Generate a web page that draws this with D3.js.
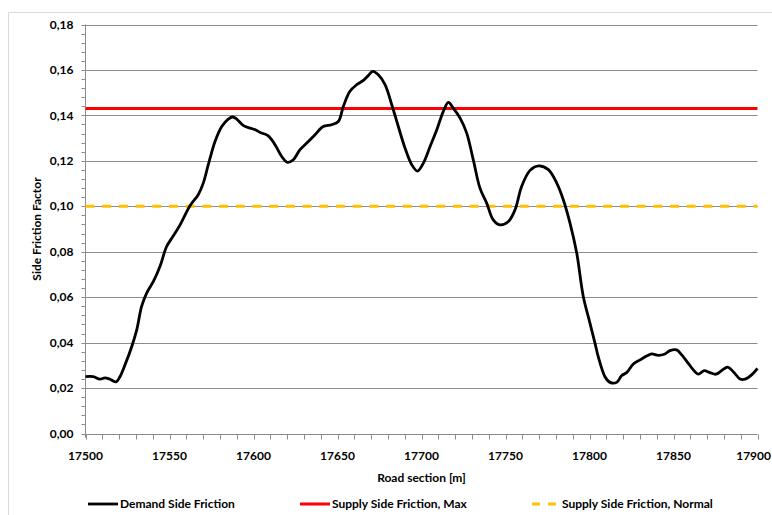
<!DOCTYPE html>
<html>
<head>
<meta charset="utf-8">
<script src="https://cdn.jsdelivr.net/npm/d3@7"></script>
<style>
  body { margin: 0; background: #fff; }
  text { font-family: Lato, "Open Sans", sans-serif; font-weight: bold; fill: #000; }
</style>
</head>
<body>
<svg id="chart"></svg>
<script>
// station along road [m]
const station = [17500, 17504.6, 17508.6, 17511.6, 17514.6, 17518.2, 17520.5, 17523.5, 17527.5, 17530.5,
  17533.4, 17536.4, 17540.4, 17544.3, 17548.3, 17552.3, 17556.3, 17562.2, 17567.1, 17570.1,
  17573.1, 17577.1, 17581.1, 17585, 17587.6, 17590, 17594, 17598, 17601, 17604, 17608.8,
  17612.8, 17616.8, 17620.3, 17623.7, 17627.7, 17631.7, 17636.6, 17641.5, 17646.5, 17650.5,
  17653.5, 17657.4, 17661.4, 17665.4, 17668.3, 17671, 17674.3, 17678.3, 17682.3, 17686.2,
  17690.2, 17694.2, 17697.6, 17701.1, 17705.1, 17709.1, 17713, 17716, 17718.9, 17722.9,
  17726.9, 17730.8, 17734.8, 17738.8, 17742.7, 17746.7, 17751.7, 17755.7, 17759.6, 17764.6,
  17769.9, 17775.5, 17780.5, 17784.4, 17788.4, 17792.4, 17796.3, 17800.3, 17803.3, 17805.2,
  17809.2, 17812.2, 17816.2, 17819.2, 17822.1, 17826.1, 17830.1, 17834, 17837, 17841,
  17844.9, 17847.9, 17851.9, 17854.9, 17858.8, 17861.8, 17864.8, 17868.2, 17871.7, 17875.3,
  17878.7, 17882.3, 17885.6, 17889.6, 17892.6, 17896.5, 17900];

const demandFriction = [0.0250, 0.0250, 0.0239, 0.0245, 0.0239, 0.0227, 0.0250, 0.0302, 0.0382, 0.0456,
  0.0559, 0.0618, 0.0669, 0.0735, 0.0823, 0.0870, 0.0918, 0.1002, 0.1051, 0.1102,
  0.1183, 0.1285, 0.1351, 0.1384, 0.1393, 0.1384, 0.1355, 0.1344, 0.1337, 0.1325, 0.1310,
  0.1271, 0.1219, 0.1193, 0.1205, 0.1249, 0.1278, 0.1315, 0.1351, 0.1359, 0.1373,
  0.1440, 0.1506, 0.1535, 0.1554, 0.1575, 0.1594, 0.1579, 0.1535, 0.1447, 0.1351,
  0.1256, 0.1183, 0.1155, 0.1190, 0.1263, 0.1337, 0.1418, 0.1457, 0.1432, 0.1389,
  0.1322, 0.1205, 0.1080, 0.1014, 0.0940, 0.0918, 0.0933, 0.0985, 0.1087, 0.1158,
  0.1178, 0.1161, 0.1102, 0.1029, 0.0926, 0.0794, 0.0603, 0.0485, 0.0397, 0.0338,
  0.0250, 0.0225, 0.0225, 0.0255, 0.0268, 0.0306, 0.0324, 0.0341, 0.0350, 0.0344,
  0.0350, 0.0365, 0.0368, 0.0346, 0.0309, 0.0280, 0.0261, 0.0277, 0.0268, 0.0261,
  0.0277, 0.0292, 0.0272, 0.0240, 0.0239, 0.0258, 0.0287];

const supplyMax = 0.143;
const supplyNormal = 0.10;

const xTicks = [17500, 17550, 17600, 17650, 17700, 17750, 17800, 17850, 17900];
const yTicks = [0, 0.02, 0.04, 0.06, 0.08, 0.10, 0.12, 0.14, 0.16, 0.18];

const legendItems = [
  { name: "Demand Side Friction", color: "#000", dash: null, width: 2.8 },
  { name: "Supply Side Friction, Max", color: "#ff0000", dash: null, width: 3 },
  { name: "Supply Side Friction, Normal", color: "#ffc000", dash: "8,8", width: 3 }
];

function createChart() {
  const width = 772;
  const height = 515;
  const margin = { left: 85.5, right: 14.5, top: 24.5, bottom: 81.5 };

  const svg = d3.select("#chart")
    .attr("width", width)
    .attr("height", height);

  // outer chart border (only top/left visible in the crop)
  svg.append("path")
    .attr("d", `M8.5,${height + 5} V12.5 H${width + 5}`)
    .attr("fill", "none")
    .attr("stroke", "#d9d9d9")
    .attr("stroke-width", 1);

  const x = d3.scaleLinear()
    .domain([17500, 17900])
    .range([margin.left, width - margin.right]);

  const y = d3.scaleLinear()
    .domain([0, 0.18])
    .range([height - margin.bottom, margin.top]);

  const fmt = d => d3.format(".2f")(d).replace(".", ",");

  // gridlines
  svg.append("g")
    .selectAll("line")
    .data(yTicks.filter(d => d > 0))
    .join("line")
    .attr("x1", x.range()[0])
    .attr("x2", x.range()[1])
    .attr("y1", d => Math.round(y(d)) + 0.5)
    .attr("y2", d => Math.round(y(d)) + 0.5)
    .attr("stroke", "#8c8c8c")
    .attr("stroke-width", 1);

  // y axis with minor ticks
  const yMinor = d3.range(0, 0.1801, 0.004);
  const yAxisG = svg.append("g").attr("transform", `translate(${margin.left},0)`);
  yAxisG.selectAll("line.minor")
    .data(yMinor)
    .join("line")
    .attr("class", "minor")
    .attr("x1", -4).attr("x2", 0)
    .attr("y1", d => Math.round(y(d)) + 0.5)
    .attr("y2", d => Math.round(y(d)) + 0.5)
    .attr("stroke", "#8c8c8c");
  yAxisG.append("line")
    .attr("x1", 0).attr("x2", 0)
    .attr("y1", y(0) + 4).attr("y2", y(0.18))
    .attr("stroke", "#8c8c8c");
  yAxisG.selectAll("text")
    .data(yTicks)
    .join("text")
    .attr("x", -12)
    .attr("y", d => y(d))
    .attr("dy", "0.35em")
    .attr("text-anchor", "end")
    .attr("font-size", 12)
    .text(fmt);

  // x axis with minor ticks
  const xMinor = d3.range(17500, 17901, 10);
  const xAxisG = svg.append("g").attr("transform", `translate(0,${Math.round(y(0)) + 0.5})`);
  xAxisG.append("line")
    .attr("x1", x.range()[0]).attr("x2", x.range()[1])
    .attr("stroke", "#8c8c8c");
  xAxisG.selectAll("line.minor")
    .data(xMinor)
    .join("line")
    .attr("class", "minor")
    .attr("x1", d => Math.round(x(d)) + 0.5)
    .attr("x2", d => Math.round(x(d)) + 0.5)
    .attr("y1", 0).attr("y2", 5)
    .attr("stroke", "#8c8c8c");
  xAxisG.selectAll("text")
    .data(xTicks)
    .join("text")
    .attr("x", d => d === 17900 ? width - 1 : x(d))
    .attr("y", 21)
    .attr("dy", "0.35em")
    .attr("text-anchor", d => d === 17900 ? "end" : "middle")
    .attr("font-size", 12)
    .text(d => d);

  // axis titles
  svg.append("text")
    .attr("x", (x.range()[0] + x.range()[1]) / 2)
    .attr("y", 478)
    .attr("dy", "0.35em")
    .attr("text-anchor", "middle")
    .attr("font-size", 12)
    .text("Road section [m]");

  svg.append("text")
    .attr("transform", `translate(37,${(y(0) + y(0.18)) / 2}) rotate(-90)`)
    .attr("dy", "0.35em")
    .attr("text-anchor", "middle")
    .attr("font-size", 12)
    .text("Side Friction Factor");

  // supply lines
  svg.append("line")
    .attr("x1", x.range()[0]).attr("x2", x.range()[1])
    .attr("y1", y(supplyNormal)).attr("y2", y(supplyNormal))
    .attr("stroke", "#ffc000")
    .attr("stroke-width", 3)
    .attr("stroke-dasharray", "9,7.7");

  svg.append("line")
    .attr("x1", x.range()[0]).attr("x2", x.range()[1])
    .attr("y1", y(supplyMax)).attr("y2", y(supplyMax))
    .attr("stroke", "#ff0000")
    .attr("stroke-width", 3);

  // demand curve
  const pts = station.map((s, i) => [s, demandFriction[i]]);
  const line = d3.line()
    .x(d => x(d[0]))
    .y(d => y(d[1]))
    .curve(d3.curveCatmullRom.alpha(0.5));

  svg.append("path")
    .datum(pts)
    .attr("d", line)
    .attr("fill", "none")
    .attr("stroke", "#000")
    .attr("stroke-width", 2.8)
    .attr("stroke-linejoin", "round");

  // legend
  const legendX = [88, 300, 532];
  const legend = svg.append("g")
    .selectAll("g")
    .data(legendItems)
    .join("g")
    .attr("transform", (d, i) => `translate(${legendX[i]},504)`);

  legend.append("line")
    .attr("x1", 0)
    .attr("x2", (d, i) => i === 2 ? 25 : 30)
    .attr("stroke", d => d.color)
    .attr("stroke-width", d => d.width)
    .attr("stroke-dasharray", d => d.dash);

  legend.append("text")
    .attr("x", (d, i) => i === 2 ? 30 : 32)
    .attr("dy", "0.35em")
    .attr("font-size", 12)
    .text(d => d.name);
}

createChart();
</script>
</body>
</html>
